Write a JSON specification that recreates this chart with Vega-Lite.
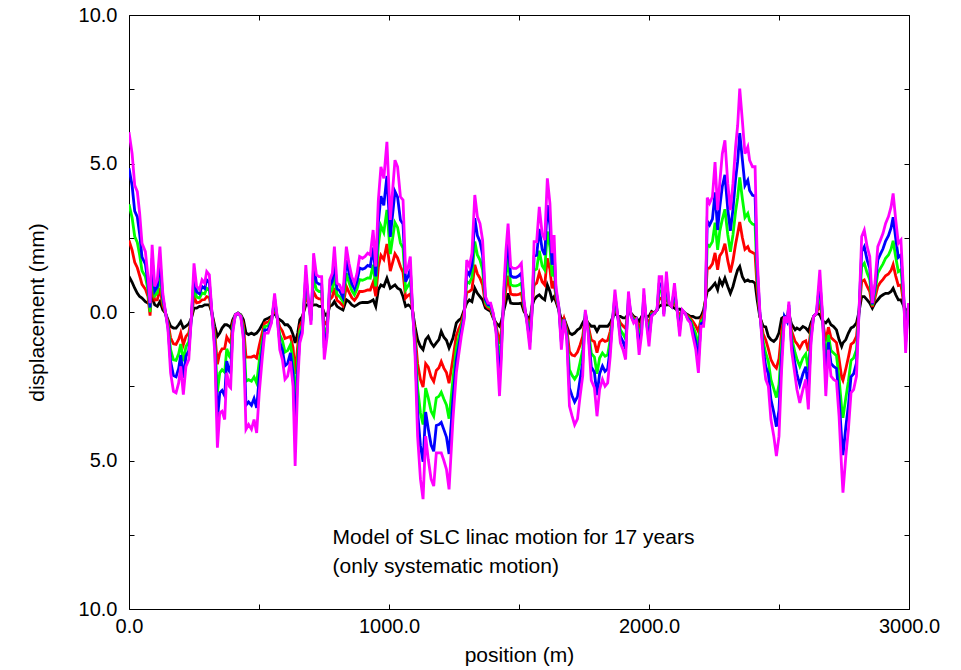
{
"$schema":"https://vega.github.io/schema/vega-lite/v6.json",
"width":780,"height":594,
"autosize":{"type":"none"},
"padding":{"left":129,"top":15,"right":52,"bottom":61},
"config":{"view":{"stroke":null},"font":"Liberation Sans","axis":{"grid":false,"domainColor":"#000","tickColor":"#000","labelColor":"#000","titleColor":"#000","labelFontSize":20,"titleFontSize":21,"titleFontWeight":"normal","tickSize":-5,"labelOverlap":false,"labelBound":false,"labelFlush":false,"domainWidth":1,"tickWidth":1}},
"datasets":{"lines":[
{"x":0,"k":1.2,"r":2.41,"g":3.63,"b":4.84,"m":6.05},
{"x":12,"k":1.0,"r":2.08,"g":3.17,"b":4.25,"m":5.33},
{"x":22,"k":0.8,"r":1.67,"g":2.54,"b":3.4,"m":4.27},
{"x":32,"k":0.63,"r":1.49,"g":2.34,"b":3.2,"m":4.05},
{"x":41,"k":0.52,"r":1.22,"g":1.92,"b":2.62,"m":3.32},
{"x":50,"k":0.47,"r":0.93,"g":1.39,"b":1.85,"m":2.31},
{"x":63,"k":0.35,"r":0.77,"g":1.19,"b":1.61,"m":2.03},
{"x":73,"k":0.3,"r":0.52,"g":0.75,"b":0.97,"m":1.19},
{"x":81,"k":0.3,"r":-0.12,"g":0.0,"b":0.15,"m":0.3},
{"x":89,"k":0.47,"r":0.92,"g":1.37,"b":1.81,"m":2.26},
{"x":99,"k":0.24,"r":0.4,"g":0.55,"b":0.71,"m":0.86},
{"x":109,"k":0.19,"r":0.41,"g":0.64,"b":0.86,"m":1.08},
{"x":119,"k":0.35,"r":0.81,"g":1.28,"b":1.74,"m":2.2},
{"x":130,"k":0.07,"r":0.21,"g":0.35,"b":0.49,"m":0.63},
{"x":140,"k":-0.04,"r":-0.03,"g":-0.01,"b":0.01,"m":0.02},
{"x":150,"k":-0.26,"r":-0.35,"g":-0.43,"b":-0.52,"m":-0.6},
{"x":160,"k":-0.48,"r":-0.87,"g":-1.27,"b":-1.66,"m":-2.05},
{"x":171,"k":-0.54,"r":-1.07,"g":-1.61,"b":-2.14,"m":-2.67},
{"x":181,"k":-0.54,"r":-1.09,"g":-1.63,"b":-2.18,"m":-2.72},
{"x":191,"k":-0.43,"r":-0.92,"g":-1.41,"b":-1.9,"m":-2.39},
{"x":199,"k":-0.32,"r":-0.7,"g":-1.08,"b":-1.45,"m":-1.83},
{"x":209,"k":-0.54,"r":-1.1,"g":-1.66,"b":-2.22,"m":-2.78},
{"x":219,"k":-0.48,"r":-0.82,"g":-1.16,"b":-1.49,"m":-1.83},
{"x":230,"k":-0.4,"r":-0.7,"g":-1.0,"b":-1.3,"m":-1.6},
{"x":240,"k":-0.21,"r":-0.2,"g":-0.18,"b":-0.17,"m":-0.15},
{"x":250,"k":0.13,"r":0.51,"g":0.89,"b":1.26,"m":1.64},
{"x":260,"k":0.13,"r":0.31,"g":0.5,"b":0.68,"m":0.86},
{"x":271,"k":0.19,"r":0.33,"g":0.47,"b":0.61,"m":0.75},
{"x":281,"k":0.19,"r":0.41,"g":0.64,"b":0.86,"m":1.08},
{"x":291,"k":0.24,"r":0.42,"g":0.61,"b":0.79,"m":0.97},
{"x":299,"k":0.24,"r":0.52,"g":0.8,"b":1.08,"m":1.36},
{"x":309,"k":0.24,"r":0.49,"g":0.75,"b":1.0,"m":1.25},
{"x":319,"k":-0.04,"r":-0.04,"g":-0.04,"b":-0.04,"m":-0.04},
{"x":330,"k":-0.48,"r":-0.71,"g":-0.93,"b":-1.16,"m":-1.38},
{"x":340,"k":-0.82,"r":-1.76,"g":-2.7,"b":-3.63,"m":-4.57},
{"x":349,"k":-0.71,"r":-1.38,"g":-2.05,"b":-2.72,"m":-3.39},
{"x":358,"k":-0.54,"r":-1.24,"g":-1.94,"b":-2.64,"m":-3.34},
{"x":368,"k":-0.43,"r":-1.23,"g":-2.03,"b":-2.82,"m":-3.62},
{"x":376,"k":-0.43,"r":-0.84,"g":-1.24,"b":-1.65,"m":-2.05},
{"x":386,"k":-0.48,"r":-0.99,"g":-1.49,"b":-2.0,"m":-2.5},
{"x":391,"k":-0.54,"r":-1.04,"g":-1.55,"b":-2.05,"m":-2.55},
{"x":399,"k":-0.26,"r":-0.37,"g":-0.49,"b":-0.6,"m":-0.71},
{"x":409,"k":-0.09,"r":-0.09,"g":-0.09,"b":-0.09,"m":-0.09},
{"x":419,"k":-0.04,"r":-0.04,"g":-0.04,"b":-0.04,"m":-0.04},
{"x":430,"k":-0.09,"r":-0.11,"g":-0.12,"b":-0.14,"m":-0.15},
{"x":440,"k":-0.26,"r":-0.43,"g":-0.6,"b":-0.76,"m":-0.93},
{"x":450,"k":-0.71,"r":-1.52,"g":-2.33,"b":-3.14,"m":-3.95},
{"x":460,"k":-0.76,"r":-1.52,"g":-2.28,"b":-3.03,"m":-3.79},
{"x":471,"k":-0.71,"r":-1.52,"g":-2.33,"b":-3.14,"m":-3.95},
{"x":481,"k":-0.76,"r":-1.48,"g":-2.19,"b":-2.91,"m":-3.62},
{"x":491,"k":-0.71,"r":-1.55,"g":-2.39,"b":-3.23,"m":-4.07},
{"x":501,"k":-0.6,"r":-1.13,"g":-1.66,"b":-2.19,"m":-2.72},
{"x":512,"k":-0.43,"r":-0.72,"g":-1.02,"b":-1.31,"m":-1.6},
{"x":522,"k":-0.26,"r":-0.37,"g":-0.49,"b":-0.6,"m":-0.71},
{"x":535,"k":-0.21,"r":-0.34,"g":-0.46,"b":-0.59,"m":-0.71},
{"x":548,"k":-0.15,"r":-0.21,"g":-0.26,"b":-0.32,"m":-0.37},
{"x":560,"k":-0.04,"r":0.13,"g":0.3,"b":0.46,"m":0.63},
{"x":571,"k":-0.21,"r":-0.22,"g":-0.24,"b":-0.25,"m":-0.26},
{"x":580,"k":-0.26,"r":-0.51,"g":-0.77,"b":-1.02,"m":-1.27},
{"x":590,"k":-0.32,"r":-0.64,"g":-0.96,"b":-1.28,"m":-1.6},
{"x":600,"k":-0.43,"r":-0.89,"g":-1.35,"b":-1.81,"m":-2.27},
{"x":610,"k":-0.43,"r":-0.86,"g":-1.3,"b":-1.73,"m":-2.16},
{"x":621,"k":-0.54,"r":-0.82,"g":-1.1,"b":-1.38,"m":-1.66},
{"x":631,"k":-0.76,"r":-1.2,"g":-1.63,"b":-2.07,"m":-2.5},
{"x":639,"k":-1.04,"r":-2.08,"g":-3.11,"b":-4.15,"m":-5.18},
{"x":649,"k":-0.71,"r":-1.13,"g":-1.55,"b":-1.97,"m":-2.39},
{"x":657,"k":-0.26,"r":-0.46,"g":-0.65,"b":-0.85,"m":-1.04},
{"x":667,"k":-0.15,"r":-0.29,"g":-0.43,"b":-0.57,"m":-0.71},
{"x":680,"k":0.24,"r":0.58,"g":0.91,"b":1.25,"m":1.58},
{"x":690,"k":0.24,"r":0.28,"g":0.33,"b":0.37,"m":0.41},
{"x":700,"k":0.19,"r":0.04,"g":-0.12,"b":-0.28,"m":-0.43},
{"x":710,"k":0.24,"r":0.68,"g":1.11,"b":1.55,"m":1.98},
{"x":721,"k":0.24,"r":0.49,"g":0.75,"b":1.0,"m":1.25},
{"x":731,"k":0.19,"r":0.44,"g":0.69,"b":0.94,"m":1.19},
{"x":741,"k":0.19,"r":0.44,"g":0.69,"b":0.94,"m":1.19},
{"x":751,"k":-0.04,"r":-0.43,"g":-0.82,"b":-1.21,"m":-1.6},
{"x":762,"k":-0.15,"r":-0.32,"g":-0.49,"b":-0.65,"m":-0.82},
{"x":772,"k":0.19,"r":0.41,"g":0.64,"b":0.86,"m":1.08},
{"x":782,"k":0.24,"r":0.51,"g":0.77,"b":1.04,"m":1.3},
{"x":790,"k":0.35,"r":0.81,"g":1.28,"b":1.74,"m":2.2},
{"x":800,"k":0.19,"r":0.39,"g":0.58,"b":0.78,"m":0.97},
{"x":810,"k":0.13,"r":0.33,"g":0.52,"b":0.72,"m":0.91},
{"x":823,"k":0.07,"r":0.21,"g":0.35,"b":0.49,"m":0.63},
{"x":836,"k":0.41,"r":0.86,"g":1.31,"b":1.75,"m":2.2},
{"x":846,"k":0.35,"r":0.67,"g":1.0,"b":1.32,"m":1.64},
{"x":857,"k":0.24,"r":0.48,"g":0.72,"b":0.95,"m":1.19},
{"x":867,"k":0.19,"r":0.39,"g":0.58,"b":0.78,"m":0.97},
{"x":877,"k":0.24,"r":0.51,"g":0.77,"b":1.04,"m":1.3},
{"x":887,"k":0.3,"r":0.69,"g":1.09,"b":1.48,"m":1.87},
{"x":898,"k":0.32,"r":0.69,"g":1.07,"b":1.44,"m":1.81},
{"x":908,"k":0.32,"r":0.71,"g":1.1,"b":1.48,"m":1.87},
{"x":918,"k":0.32,"r":0.74,"g":1.15,"b":1.57,"m":1.98},
{"x":928,"k":0.35,"r":0.74,"g":1.14,"b":1.53,"m":1.92},
{"x":939,"k":0.41,"r":1.0,"g":1.59,"b":2.17,"m":2.76},
{"x":949,"k":0.19,"r":0.53,"g":0.86,"b":1.2,"m":1.53},
{"x":959,"k":0.75,"r":1.51,"g":2.26,"b":3.02,"m":3.77},
{"x":969,"k":0.91,"r":1.91,"g":2.9,"b":3.9,"m":4.89},
{"x":980,"k":0.86,"r":1.77,"g":2.68,"b":3.59,"m":4.5},
{"x":992,"k":1.14,"r":2.29,"g":3.44,"b":4.58,"m":5.73},
{"x":1005,"k":0.8,"r":1.38,"g":1.95,"b":2.53,"m":3.1},
{"x":1023,"k":0.91,"r":1.96,"g":3.01,"b":4.06,"m":5.11},
{"x":1033,"k":0.8,"r":1.82,"g":2.85,"b":3.87,"m":4.89},
{"x":1044,"k":0.75,"r":1.53,"g":2.32,"b":3.1,"m":3.88},
{"x":1054,"k":0.52,"r":1.33,"g":2.15,"b":2.96,"m":3.77},
{"x":1064,"k":0.19,"r":0.47,"g":0.75,"b":1.02,"m":1.3},
{"x":1074,"k":0.24,"r":0.56,"g":0.89,"b":1.21,"m":1.53},
{"x":1082,"k":0.19,"r":0.61,"g":1.03,"b":1.45,"m":1.87},
{"x":1090,"k":0.07,"r":0.1,"g":0.13,"b":0.16,"m":0.19},
{"x":1100,"k":-0.48,"r":-0.71,"g":-0.93,"b":-1.16,"m":-1.38},
{"x":1110,"k":-0.93,"r":-1.74,"g":-2.56,"b":-3.37,"m":-4.18},
{"x":1121,"k":-1.16,"r":-2.28,"g":-3.4,"b":-4.51,"m":-5.63},
{"x":1131,"k":-1.27,"r":-2.53,"g":-3.79,"b":-5.04,"m":-6.3},
{"x":1141,"k":-0.93,"r":-1.74,"g":-2.56,"b":-3.37,"m":-4.18},
{"x":1151,"k":-0.82,"r":-1.86,"g":-2.89,"b":-3.93,"m":-4.96},
{"x":1162,"k":-1.04,"r":-2.19,"g":-3.34,"b":-4.48,"m":-5.63},
{"x":1172,"k":-1.16,"r":-2.34,"g":-3.51,"b":-4.69,"m":-5.86},
{"x":1182,"k":-1.04,"r":-1.97,"g":-2.89,"b":-3.82,"m":-4.74},
{"x":1192,"k":-0.93,"r":-1.88,"g":-2.84,"b":-3.79,"m":-4.74},
{"x":1201,"k":-0.65,"r":-1.67,"g":-2.7,"b":-3.72,"m":-4.74},
{"x":1211,"k":-0.85,"r":-1.89,"g":-2.93,"b":-3.96,"m":-5.0},
{"x":1221,"k":-0.95,"r":-2.04,"g":-3.13,"b":-4.21,"m":-5.3},
{"x":1231,"k":-1.21,"r":-2.4,"g":-3.59,"b":-4.78,"m":-5.97},
{"x":1246,"k":-0.88,"r":-1.57,"g":-2.25,"b":-2.94,"m":-3.62},
{"x":1259,"k":-0.37,"r":-0.79,"g":-1.21,"b":-1.63,"m":-2.05},
{"x":1268,"k":-0.28,"r":-0.57,"g":-0.87,"b":-1.16,"m":-1.45},
{"x":1278,"k":-0.21,"r":-0.36,"g":-0.52,"b":-0.67,"m":-0.82},
{"x":1289,"k":0.07,"r":-0.01,"g":-0.1,"b":-0.18,"m":-0.26},
{"x":1299,"k":0.3,"r":0.66,"g":1.03,"b":1.39,"m":1.75},
{"x":1309,"k":0.41,"r":0.69,"g":0.97,"b":1.25,"m":1.53},
{"x":1319,"k":0.35,"r":0.76,"g":1.17,"b":1.57,"m":1.98},
{"x":1330,"k":0.8,"r":1.59,"g":2.37,"b":3.16,"m":3.94},
{"x":1340,"k":0.63,"r":1.28,"g":1.92,"b":2.57,"m":3.21},
{"x":1350,"k":0.52,"r":1.14,"g":1.75,"b":2.37,"m":2.98},
{"x":1360,"k":0.41,"r":0.91,"g":1.42,"b":1.92,"m":2.42},
{"x":1371,"k":0.13,"r":0.23,"g":0.33,"b":0.42,"m":0.52},
{"x":1381,"k":0.07,"r":0.13,"g":0.19,"b":0.24,"m":0.3},
{"x":1391,"k":0.02,"r":0.09,"g":0.16,"b":0.23,"m":0.3},
{"x":1401,"k":-0.21,"r":-0.17,"g":-0.13,"b":-0.08,"m":-0.04},
{"x":1412,"k":-0.37,"r":-0.46,"g":-0.54,"b":-0.63,"m":-0.71},
{"x":1425,"k":-0.48,"r":-1.07,"g":-1.66,"b":-2.24,"m":-2.83},
{"x":1432,"k":-0.32,"r":-0.64,"g":-0.96,"b":-1.28,"m":-1.6},
{"x":1442,"k":0.07,"r":0.27,"g":0.47,"b":0.66,"m":0.86},
{"x":1450,"k":0.35,"r":0.79,"g":1.22,"b":1.66,"m":2.09},
{"x":1458,"k":0.63,"r":1.22,"g":1.81,"b":2.39,"m":2.98},
{"x":1468,"k":0.3,"r":0.61,"g":0.92,"b":1.22,"m":1.53},
{"x":1478,"k":0.28,"r":0.58,"g":0.88,"b":1.17,"m":1.47},
{"x":1489,"k":0.28,"r":0.58,"g":0.88,"b":1.17,"m":1.47},
{"x":1499,"k":0.28,"r":0.59,"g":0.91,"b":1.22,"m":1.53},
{"x":1509,"k":0.3,"r":0.64,"g":0.97,"b":1.31,"m":1.64},
{"x":1519,"k":0.02,"r":0.12,"g":0.22,"b":0.31,"m":0.41},
{"x":1532,"k":-0.15,"r":-0.23,"g":-0.32,"b":-0.4,"m":-0.48},
{"x":1542,"k":-0.26,"r":-0.51,"g":-0.77,"b":-1.02,"m":-1.27},
{"x":1550,"k":0.19,"r":0.13,"g":0.08,"b":0.02,"m":-0.04},
{"x":1558,"k":0.41,"r":0.9,"g":1.39,"b":1.88,"m":2.37},
{"x":1568,"k":0.52,"r":0.98,"g":1.45,"b":1.91,"m":2.37},
{"x":1578,"k":0.58,"r":1.32,"g":2.06,"b":2.8,"m":3.54},
{"x":1589,"k":0.47,"r":1.02,"g":1.56,"b":2.11,"m":2.65},
{"x":1599,"k":0.41,"r":0.91,"g":1.42,"b":1.92,"m":2.42},
{"x":1609,"k":0.91,"r":1.81,"g":2.71,"b":3.6,"m":4.5},
{"x":1619,"k":0.69,"r":1.43,"g":2.18,"b":2.92,"m":3.66},
{"x":1627,"k":0.41,"r":0.8,"g":1.2,"b":1.59,"m":1.98},
{"x":1635,"k":0.52,"r":1.04,"g":1.56,"b":2.07,"m":2.59},
{"x":1642,"k":0.35,"r":0.48,"g":0.61,"b":0.73,"m":0.86},
{"x":1653,"k":0.07,"r":0.1,"g":0.13,"b":0.16,"m":0.19},
{"x":1663,"k":-0.26,"r":-0.51,"g":-0.77,"b":-1.02,"m":-1.27},
{"x":1673,"k":-0.21,"r":-0.22,"g":-0.24,"b":-0.25,"m":-0.26},
{"x":1684,"k":-0.48,"r":-0.59,"g":-0.71,"b":-0.82,"m":-0.93},
{"x":1694,"k":-0.71,"r":-1.33,"g":-1.94,"b":-2.56,"m":-3.17},
{"x":1704,"k":-0.76,"r":-1.45,"g":-2.13,"b":-2.82,"m":-3.5},
{"x":1714,"k":-0.71,"r":-1.48,"g":-2.26,"b":-3.03,"m":-3.8},
{"x":1725,"k":-0.6,"r":-1.35,"g":-2.1,"b":-2.85,"m":-3.6},
{"x":1735,"k":-0.54,"r":-1.11,"g":-1.69,"b":-2.26,"m":-2.83},
{"x":1745,"k":-0.37,"r":-0.82,"g":-1.27,"b":-1.71,"m":-2.16},
{"x":1755,"k":-0.21,"r":-0.14,"g":-0.07,"b":0.0,"m":0.07},
{"x":1766,"k":-0.37,"r":-0.46,"g":-0.54,"b":-0.63,"m":-0.71},
{"x":1778,"k":-0.48,"r":-0.94,"g":-1.39,"b":-1.85,"m":-2.3},
{"x":1790,"k":-0.48,"r":-1.0,"g":-1.52,"b":-2.03,"m":-2.55},
{"x":1800,"k":-0.65,"r":-1.37,"g":-2.08,"b":-2.8,"m":-3.51},
{"x":1810,"k":-0.48,"r":-1.01,"g":-1.55,"b":-2.08,"m":-2.61},
{"x":1821,"k":-0.48,"r":-0.93,"g":-1.38,"b":-1.82,"m":-2.27},
{"x":1831,"k":-0.48,"r":-0.99,"g":-1.49,"b":-2.0,"m":-2.5},
{"x":1841,"k":-0.48,"r":-0.96,"g":-1.44,"b":-1.91,"m":-2.39},
{"x":1851,"k":-0.37,"r":-0.65,"g":-0.93,"b":-1.21,"m":-1.49},
{"x":1862,"k":-0.15,"r":-0.12,"g":-0.1,"b":-0.07,"m":-0.04},
{"x":1869,"k":-0.04,"r":0.16,"g":0.36,"b":0.55,"m":0.75},
{"x":1880,"k":-0.15,"r":-0.15,"g":-0.15,"b":-0.15,"m":-0.15},
{"x":1890,"k":-0.15,"r":-0.37,"g":-0.6,"b":-0.82,"m":-1.04},
{"x":1900,"k":-0.2,"r":-0.47,"g":-0.74,"b":-1.0,"m":-1.27},
{"x":1910,"k":-0.2,"r":-0.55,"g":-0.9,"b":-1.25,"m":-1.6},
{"x":1921,"k":-0.04,"r":0.14,"g":0.33,"b":0.51,"m":0.69},
{"x":1931,"k":-0.04,"r":-0.07,"g":-0.1,"b":-0.12,"m":-0.15},
{"x":1941,"k":-0.15,"r":-0.21,"g":-0.26,"b":-0.32,"m":-0.37},
{"x":1951,"k":-0.2,"r":-0.22,"g":-0.23,"b":-0.25,"m":-0.26},
{"x":1962,"k":-0.32,"r":-0.6,"g":-0.88,"b":-1.16,"m":-1.44},
{"x":1972,"k":-0.15,"r":-0.29,"g":-0.43,"b":-0.57,"m":-0.71},
{"x":1980,"k":-0.09,"r":0.13,"g":0.36,"b":0.58,"m":0.8},
{"x":1990,"k":-0.15,"r":-0.21,"g":-0.26,"b":-0.32,"m":-0.37},
{"x":2000,"k":-0.15,"r":-0.4,"g":-0.66,"b":-0.91,"m":-1.16},
{"x":2010,"k":0.02,"r":-0.02,"g":-0.07,"b":-0.11,"m":-0.15},
{"x":2021,"k":-0.04,"r":-0.04,"g":-0.04,"b":-0.04,"m":-0.04},
{"x":2031,"k":0.07,"r":0.07,"g":0.07,"b":0.07,"m":0.07},
{"x":2039,"k":0.19,"r":0.44,"g":0.69,"b":0.94,"m":1.19},
{"x":2049,"k":0.24,"r":0.48,"g":0.72,"b":0.95,"m":1.19},
{"x":2057,"k":0.19,"r":0.11,"g":0.02,"b":-0.07,"m":-0.15},
{"x":2067,"k":0.24,"r":0.52,"g":0.8,"b":1.08,"m":1.36},
{"x":2077,"k":0.24,"r":0.26,"g":0.27,"b":0.29,"m":0.3},
{"x":2087,"k":0.19,"r":0.19,"g":0.19,"b":0.19,"m":0.19},
{"x":2098,"k":0.13,"r":0.34,"g":0.55,"b":0.76,"m":0.97},
{"x":2108,"k":0.07,"r":0.07,"g":0.07,"b":0.07,"m":0.07},
{"x":2118,"k":0.1,"r":-0.13,"g":-0.36,"b":-0.59,"m":-0.82},
{"x":2128,"k":0.02,"r":0.03,"g":0.05,"b":0.06,"m":0.07},
{"x":2139,"k":-0.04,"r":-0.04,"g":-0.04,"b":-0.04,"m":-0.04},
{"x":2149,"k":-0.09,"r":-0.13,"g":-0.18,"b":-0.22,"m":-0.26},
{"x":2159,"k":-0.15,"r":-0.21,"g":-0.26,"b":-0.32,"m":-0.37},
{"x":2169,"k":-0.15,"r":-0.32,"g":-0.49,"b":-0.65,"m":-0.82},
{"x":2180,"k":-0.2,"r":-0.47,"g":-0.74,"b":-1.0,"m":-1.27},
{"x":2190,"k":-0.2,"r":-0.66,"g":-1.13,"b":-1.59,"m":-2.05},
{"x":2200,"k":-0.15,"r":-0.23,"g":-0.32,"b":-0.4,"m":-0.48},
{"x":2210,"k":0.07,"r":-0.07,"g":-0.21,"b":-0.34,"m":-0.48},
{"x":2217,"k":0.4,"r":0.36,"g":0.33,"b":0.29,"m":0.25},
{"x":2224,"k":0.69,"r":1.48,"g":2.27,"b":3.06,"m":3.85},
{"x":2233,"k":0.75,"r":1.48,"g":2.21,"b":2.93,"m":3.66},
{"x":2244,"k":0.86,"r":1.62,"g":2.37,"b":3.13,"m":3.88},
{"x":2254,"k":0.97,"r":1.99,"g":3.01,"b":4.03,"m":5.05},
{"x":2264,"k":0.75,"r":1.42,"g":2.09,"b":2.76,"m":3.43},
{"x":2272,"k":1.08,"r":1.89,"g":2.71,"b":3.52,"m":4.33},
{"x":2282,"k":0.91,"r":2.02,"g":3.12,"b":4.23,"m":5.33},
{"x":2292,"k":1.14,"r":2.3,"g":3.46,"b":4.62,"m":5.78},
{"x":2303,"k":0.86,"r":1.73,"g":2.6,"b":3.46,"m":4.33},
{"x":2313,"k":0.63,"r":1.33,"g":2.03,"b":2.73,"m":3.43},
{"x":2323,"k":0.86,"r":1.73,"g":2.6,"b":3.46,"m":4.33},
{"x":2333,"k":1.19,"r":2.28,"g":3.38,"b":4.47,"m":5.56},
{"x":2341,"k":1.42,"r":2.64,"g":3.85,"b":5.07,"m":6.28},
{"x":2349,"k":1.53,"r":3.03,"g":4.53,"b":6.02,"m":7.52},
{"x":2359,"k":1.19,"r":2.51,"g":3.82,"b":5.14,"m":6.45},
{"x":2369,"k":1.03,"r":2.11,"g":3.18,"b":4.26,"m":5.33},
{"x":2380,"k":1.08,"r":2.2,"g":3.32,"b":4.44,"m":5.56},
{"x":2387,"k":1.03,"r":2.05,"g":3.07,"b":4.09,"m":5.11},
{"x":2398,"k":1.03,"r":2.0,"g":2.96,"b":3.93,"m":4.89},
{"x":2408,"k":0.97,"r":1.95,"g":2.93,"b":3.91,"m":4.89},
{"x":2416,"k":0.41,"r":0.78,"g":1.14,"b":1.51,"m":1.87},
{"x":2426,"k":-0.15,"r":-0.1,"g":-0.04,"b":0.02,"m":0.07},
{"x":2439,"k":-0.48,"r":-0.73,"g":-0.99,"b":-1.24,"m":-1.49},
{"x":2449,"k":-0.5,"r":-0.94,"g":-1.39,"b":-1.83,"m":-2.27},
{"x":2459,"k":-0.82,"r":-1.24,"g":-1.66,"b":-2.08,"m":-2.5},
{"x":2469,"k":-0.93,"r":-1.6,"g":-2.28,"b":-2.95,"m":-3.62},
{"x":2480,"k":-0.99,"r":-1.79,"g":-2.59,"b":-3.38,"m":-4.18},
{"x":2490,"k":-0.9,"r":-1.89,"g":-2.88,"b":-3.86,"m":-4.85},
{"x":2500,"k":-0.7,"r":-1.57,"g":-2.44,"b":-3.31,"m":-4.18},
{"x":2510,"k":-0.21,"r":-0.64,"g":-1.08,"b":-1.51,"m":-1.94},
{"x":2521,"k":-0.15,"r":-0.15,"g":-0.15,"b":-0.15,"m":-0.15},
{"x":2531,"k":-0.15,"r":-0.21,"g":-0.26,"b":-0.32,"m":-0.37},
{"x":2538,"k":-0.1,"r":0.01,"g":0.13,"b":0.24,"m":0.35},
{"x":2548,"k":-0.4,"r":-0.62,"g":-0.84,"b":-1.05,"m":-1.27},
{"x":2562,"k":-0.6,"r":-0.99,"g":-1.38,"b":-1.77,"m":-2.16},
{"x":2569,"k":-0.54,"r":-1.06,"g":-1.58,"b":-2.09,"m":-2.61},
{"x":2580,"k":-0.6,"r":-1.22,"g":-1.83,"b":-2.45,"m":-3.06},
{"x":2592,"k":-0.49,"r":-1.02,"g":-1.55,"b":-2.08,"m":-2.61},
{"x":2603,"k":-0.54,"r":-0.97,"g":-1.41,"b":-1.84,"m":-2.27},
{"x":2613,"k":-0.65,"r":-1.31,"g":-1.97,"b":-2.62,"m":-3.28},
{"x":2623,"k":-0.37,"r":-0.54,"g":-0.71,"b":-0.87,"m":-1.04},
{"x":2633,"k":-0.15,"r":-0.15,"g":-0.15,"b":-0.15,"m":-0.15},
{"x":2644,"k":-0.04,"r":-0.04,"g":-0.04,"b":-0.04,"m":-0.04},
{"x":2657,"k":-0.09,"r":0.29,"g":0.67,"b":1.04,"m":1.42},
{"x":2667,"k":-0.3,"r":-0.24,"g":-0.17,"b":-0.11,"m":-0.04},
{"x":2680,"k":-0.37,"r":-0.99,"g":-1.6,"b":-2.22,"m":-2.83},
{"x":2690,"k":-0.26,"r":-0.51,"g":-0.77,"b":-1.02,"m":-1.27},
{"x":2700,"k":-0.43,"r":-0.86,"g":-1.3,"b":-1.73,"m":-2.16},
{"x":2710,"k":-0.49,"r":-0.94,"g":-1.38,"b":-1.83,"m":-2.27},
{"x":2721,"k":-0.6,"r":-1.03,"g":-1.47,"b":-1.9,"m":-2.33},
{"x":2731,"k":-0.93,"r":-1.58,"g":-2.22,"b":-2.87,"m":-3.51},
{"x":2741,"k":-1.16,"r":-2.2,"g":-3.23,"b":-4.27,"m":-5.3},
{"x":2746,"k":-1.04,"r":-2.3,"g":-3.56,"b":-4.82,"m":-6.08},
{"x":2757,"k":-0.93,"r":-1.91,"g":-2.89,"b":-3.87,"m":-4.85},
{"x":2767,"k":-0.71,"r":-1.52,"g":-2.33,"b":-3.14,"m":-3.95},
{"x":2777,"k":-0.54,"r":-1.09,"g":-1.63,"b":-2.18,"m":-2.72},
{"x":2787,"k":-0.49,"r":-1.02,"g":-1.55,"b":-2.08,"m":-2.61},
{"x":2798,"k":-0.37,"r":-0.82,"g":-1.27,"b":-1.71,"m":-2.16},
{"x":2808,"k":0.02,"r":0.03,"g":0.05,"b":0.06,"m":0.07},
{"x":2818,"k":0.52,"r":1.03,"g":1.53,"b":2.04,"m":2.54},
{"x":2828,"k":0.52,"r":1.08,"g":1.64,"b":2.2,"m":2.76},
{"x":2839,"k":0.41,"r":0.86,"g":1.31,"b":1.75,"m":2.2},
{"x":2849,"k":0.3,"r":0.69,"g":1.09,"b":1.48,"m":1.87},
{"x":2859,"k":0.13,"r":0.17,"g":0.22,"b":0.26,"m":0.3},
{"x":2869,"k":0.3,"r":0.47,"g":0.64,"b":0.8,"m":0.97},
{"x":2880,"k":0.41,"r":0.86,"g":1.31,"b":1.75,"m":2.2},
{"x":2890,"k":0.52,"r":1.0,"g":1.47,"b":1.95,"m":2.42},
{"x":2900,"k":0.58,"r":1.1,"g":1.62,"b":2.13,"m":2.65},
{"x":2910,"k":0.63,"r":1.22,"g":1.81,"b":2.39,"m":2.98},
{"x":2921,"k":0.63,"r":1.28,"g":1.92,"b":2.57,"m":3.21},
{"x":2931,"k":0.69,"r":1.4,"g":2.12,"b":2.83,"m":3.54},
{"x":2939,"k":0.8,"r":1.6,"g":2.4,"b":3.19,"m":3.99},
{"x":2949,"k":0.58,"r":1.21,"g":1.84,"b":2.47,"m":3.1},
{"x":2959,"k":0.41,"r":0.89,"g":1.36,"b":1.84,"m":2.31},
{"x":2969,"k":0.41,"r":0.91,"g":1.42,"b":1.92,"m":2.42},
{"x":2980,"k":0.19,"r":0.27,"g":0.36,"b":0.44,"m":0.52},
{"x":2987,"k":0.07,"r":-0.29,"g":-0.66,"b":-1.02,"m":-1.38},
{"x":2998,"k":0.07,"r":0.13,"g":0.19,"b":0.24,"m":0.3}
]},
"layer":[
{"data":{"name":"lines"},
 "transform":[{"fold":["k","r","g","b","m"],"as":["series","value"]}],
 "mark":{"type":"line","strokeWidth":2.8,"clip":true},
 "encoding":{
  "x":{"field":"x","type":"quantitative","scale":{"domain":[0,3000],"nice":false,"zero":false},
       "axis":{"orient":"bottom","values":[0,500,1000,1500,2000,2500,3000],"labelExpr":"datum.value % 1000 === 0 ? format(datum.value, '.1f') : ''","labelPadding":12,"title":"position (m)","titlePadding":8}},
  "y":{"field":"value","type":"quantitative","scale":{"domain":[-10,10],"nice":false,"zero":false},
       "axis":{"orient":"left","values":[-10,-7.5,-5,-2.5,0,2.5,5,7.5,10],"labelExpr":"datum.value % 5 === 0 ? format(abs(datum.value), '.1f') : ''","labelPadding":17,"title":"displacement (mm)","titlePadding":31}},
  "color":{"field":"series","type":"nominal","scale":{"domain":["k","r","g","b","m"],"range":["#000000","#ff0000","#00ff00","#0000ff","#ff00ff"]},"legend":null}
 }},
{"data":{"values":[{"x":783,"y":-7.6,"t":"Model of SLC linac motion for 17 years"},{"x":783,"y":-8.6,"t":"(only systematic motion)"}]},
 "mark":{"type":"text","align":"left","baseline":"middle","fontSize":21,"color":"#000"},
 "encoding":{"x":{"field":"x","type":"quantitative","axis":null},"y":{"field":"y","type":"quantitative","axis":null},"text":{"field":"t"}}},
{"data":{"values":[{"x":0,"y":0}]},
 "mark":{"type":"point","opacity":0},
 "encoding":{
  "x":{"field":"x","type":"quantitative","axis":{"orient":"top","values":[0,500,1000,1500,2000,2500,3000],"labels":false,"title":null}},
  "y":{"field":"y","type":"quantitative","axis":{"orient":"right","values":[-10,-7.5,-5,-2.5,0,2.5,5,7.5,10],"labels":false,"title":null}}
 }}
],
"resolve":{"axis":{"x":"independent","y":"independent"}}
}
